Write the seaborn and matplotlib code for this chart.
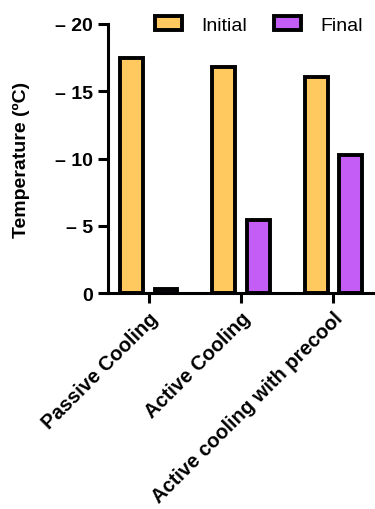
import pandas as pd
import numpy as np
import matplotlib
matplotlib.use('Agg')
import matplotlib.pyplot as plt
import seaborn as sns

methods = ['Passive Cooling', 'Active Cooling', 'Active cooling with precool']
initial_temp = [-17.5, -16.8, -16.05]
final_temp = [-0.3, -5.4, -10.25]
series = ['Initial', 'Final']
y_ticks = [0, -5, -10, -15, -20]
y_tick_labels = ['0', '\u2013 5', '\u2013 10', '\u2013 15', '\u2013 20']

data = pd.DataFrame({
    'Method': methods * 2,
    'Series': ['Initial'] * len(methods) + ['Final'] * len(methods),
    'Temperature': initial_temp + final_temp,
})

sns.set_style('ticks')
plt.rcParams['font.family'] = ['Liberation Sans', 'DejaVu Sans']
plt.rcParams['text.color'] = 'black'
plt.rcParams['xtick.color'] = 'black'
plt.rcParams['ytick.color'] = 'black'
plt.rcParams['axes.labelcolor'] = 'black'

fig = plt.figure(figsize=(3.75, 5.10), dpi=100)
ax = fig.add_axes([0.288, 0.4235, 0.712, 0.5275])

sns.barplot(data=data, x='Method', y='Temperature', hue='Series', hue_order=series,
            palette=['#FFC960', '#C45CF6'], saturation=1, width=0.745, gap=0.34,
            edgecolor='black', linewidth=2.8, ax=ax, legend=True)

ax.set_ylim(0, -20)
ax.set_xlim(-0.44, 2.45)
ax.set_yticks(y_ticks)
ax.set_yticklabels(y_tick_labels, fontsize=14, fontweight='bold')
ax.set_xticks(range(len(methods)))
ax.set_xticklabels(methods, rotation=45, ha='right', rotation_mode='anchor',
                   fontsize=14.5, fontweight='bold')
ax.set_xlabel('')
ax.set_ylabel('Temperature (\u00baC)', fontsize=14, fontweight='bold', labelpad=18)
ax.tick_params(axis='both', width=2.2, length=7, direction='out', color='black', pad=4)
for side in ['left', 'bottom']:
    ax.spines[side].set_linewidth(2.2)
    ax.spines[side].set_color('black')
sns.despine(ax=ax)

handles, labels = ax.get_legend_handles_labels()
ax.get_legend().remove()
fig.legend(handles, labels, ncol=2, loc='center left', bbox_to_anchor=(0.413, 0.949),
           frameon=False, fontsize=14, handlelength=1.4, handleheight=0.75,
           columnspacing=1.35, handletextpad=1.0, borderpad=0, borderaxespad=0)

fig.savefig('out.png', dpi=100)
